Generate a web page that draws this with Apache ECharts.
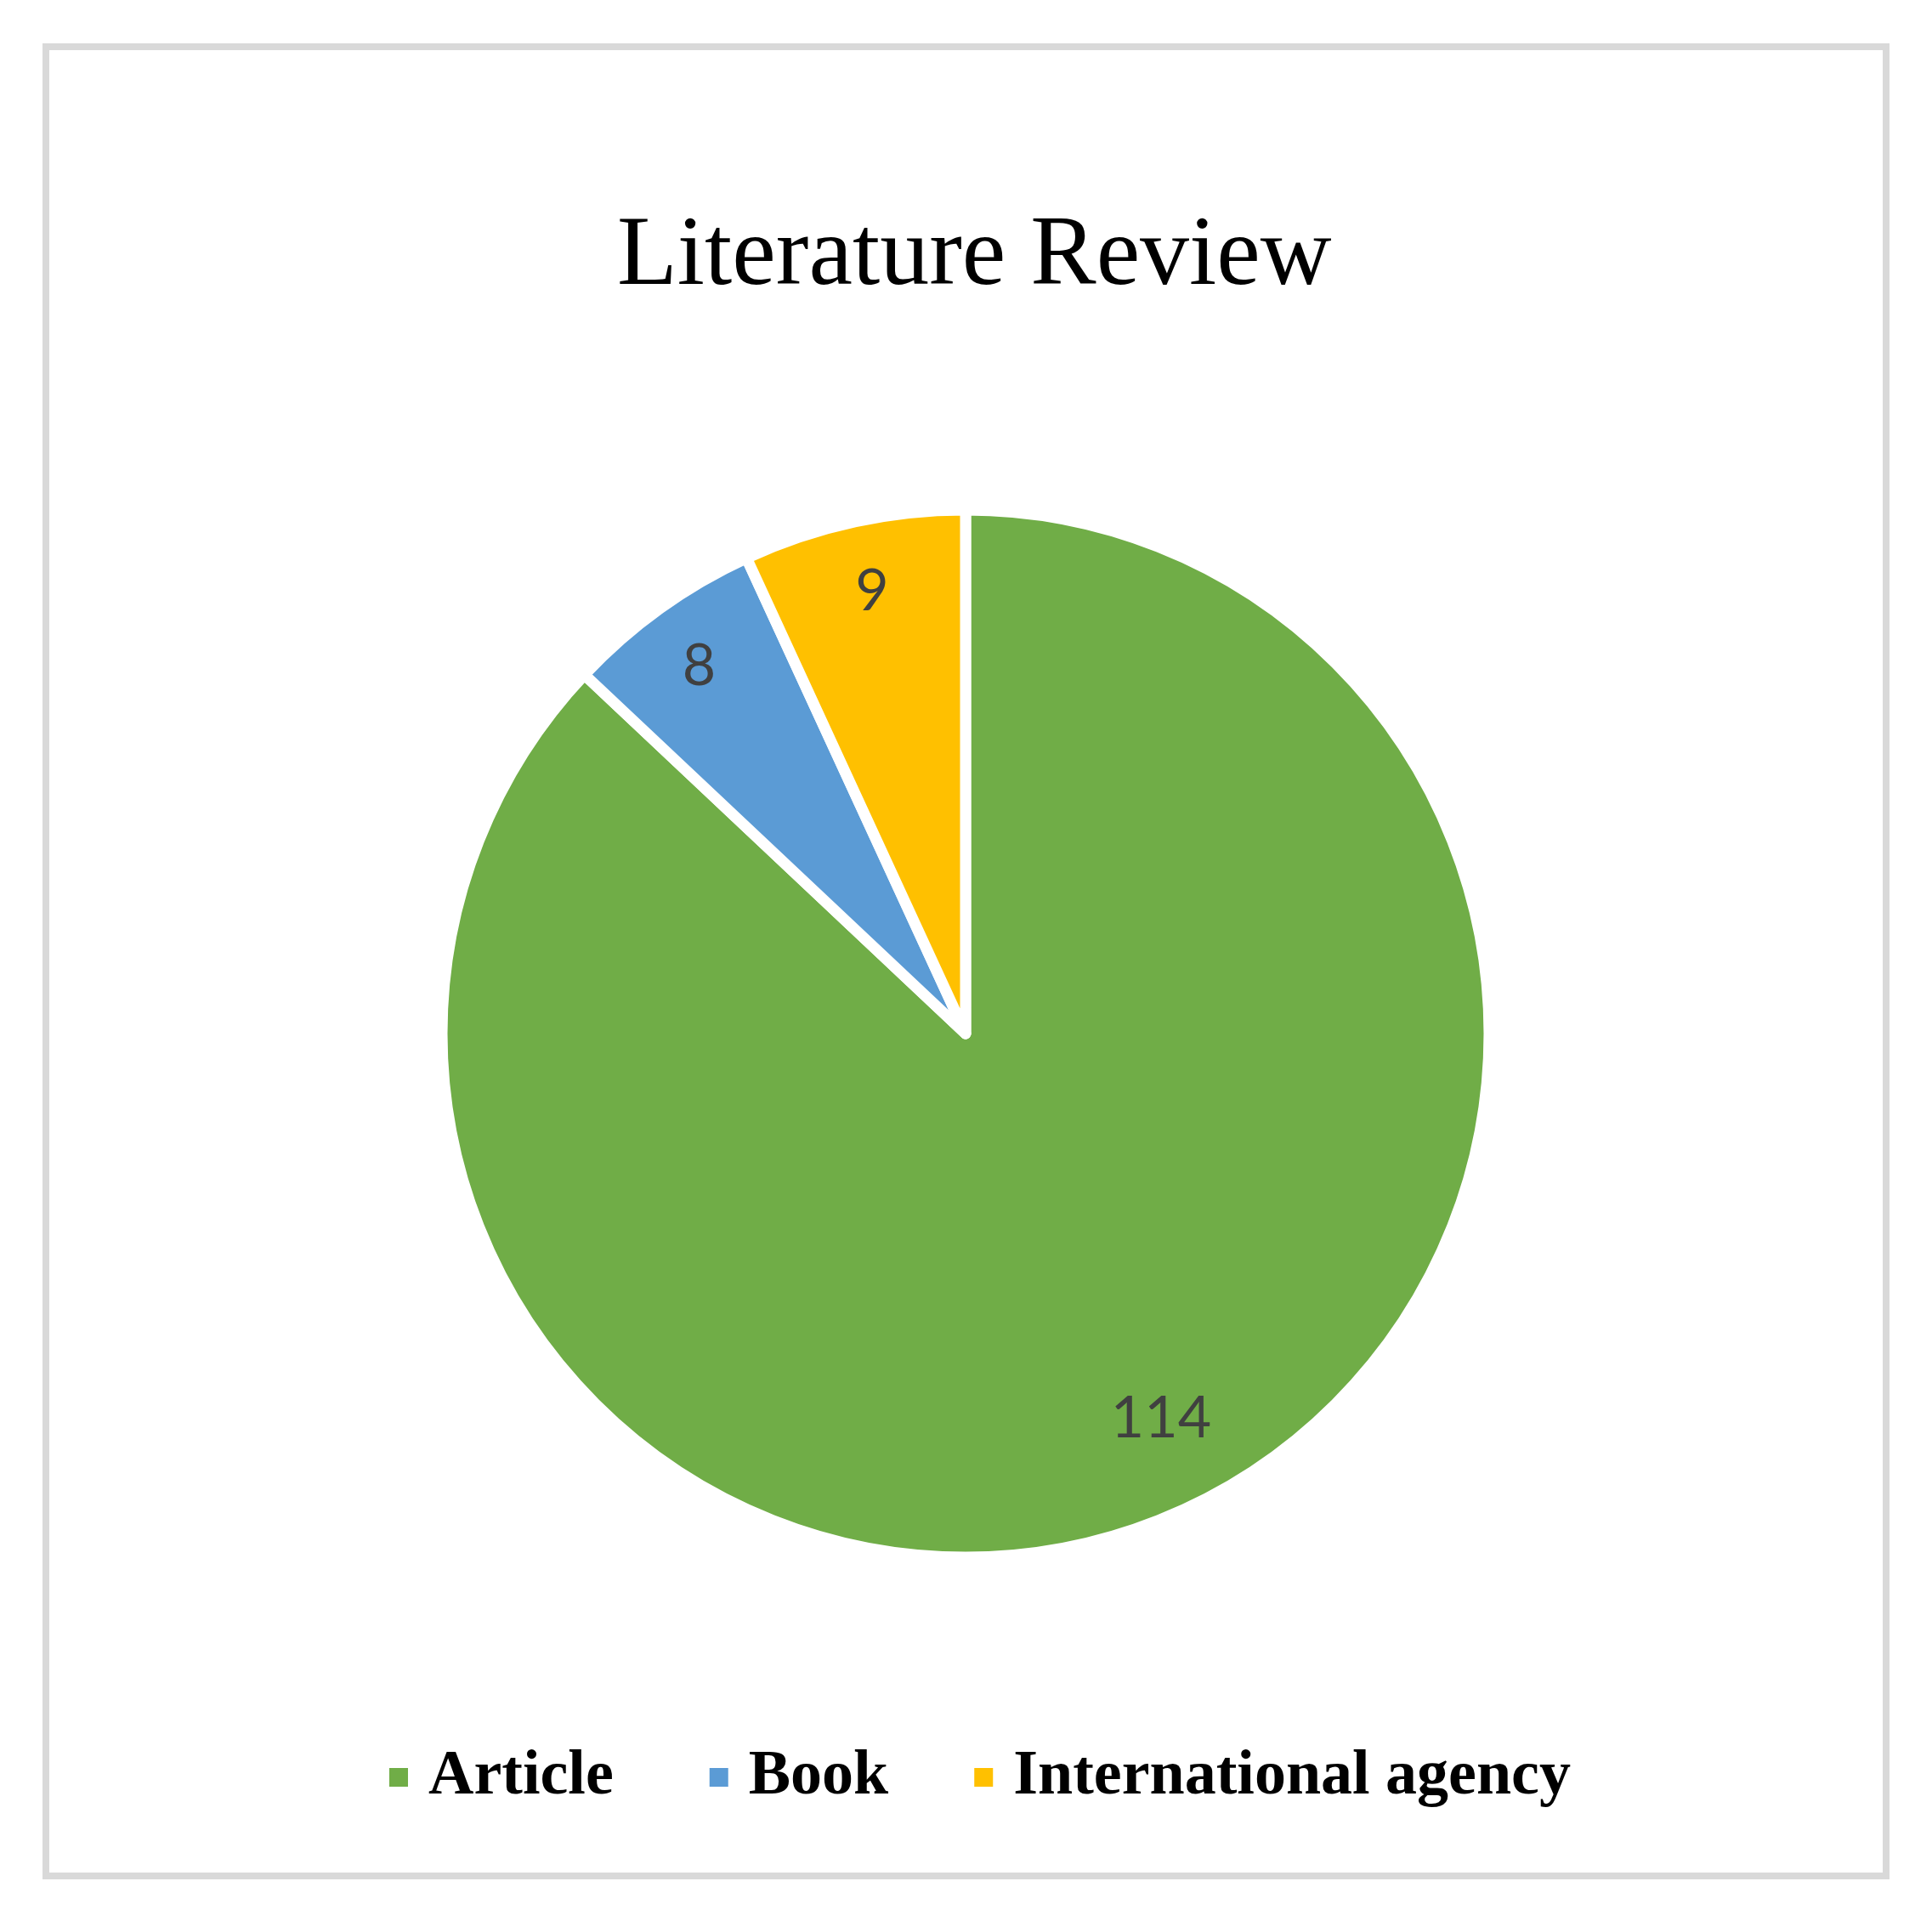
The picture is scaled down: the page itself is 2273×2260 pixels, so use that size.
<!DOCTYPE html>
<html>
<head>
<meta charset="utf-8">
<title>Literature Review</title>
<script src="https://cdn.jsdelivr.net/npm/echarts@6/dist/echarts.min.js"></script>
<style>
  html, body { margin: 0; padding: 0; background: #fff; }
  #main { width: 2273px; height: 2260px; }
</style>
</head>
<body>
<div id="main"></div>
<script>
// data
var categories = ['Article', 'Book', 'International agency'];
var counts = [114, 8, 9];
var sliceColors = ['#70AD47', '#5B9BD5', '#FFC000'];

// small nudges so the value labels sit where Excel put them
var labelNudge = [[19, -35], [-3, 0], [4, 0]];
// extra space after each legend entry (Excel spaces them unevenly)
var legendTrail = [12, 0, 0];

var myChart = echarts.init(document.getElementById('main'));

var pieData = categories.map(function (name, i) {
    return { name: name, value: counts[i], itemStyle: { color: sliceColors[i] } };
});

var labelData = categories.map(function (name, i) {
    return { name: name, value: counts[i], label: { offset: labelNudge[i] } };
});

var legendData = categories.map(function (name, i) {
    return { name: name, textStyle: { padding: [0, legendTrail[i], 0, 18] } };
});

var option = {
    backgroundColor: '#fff',
    animation: false,
    title: {
        text: 'Literature Review',
        left: 726,
        top: 246,
        padding: 0,
        textStyle: { fontFamily: 'Liberation Serif', fontSize: 116, fontWeight: 'normal', color: '#000', lineHeight: 116 }
    },
    legend: {
        data: legendData,
        left: 456,
        top: 2053,
        padding: 0,
        icon: 'rect',
        itemWidth: 24,
        itemHeight: 24,
        itemGap: 99,
        selectedMode: false,
        textStyle: { fontFamily: 'Liberation Serif', fontSize: 74, fontWeight: 'bold', color: '#000', lineHeight: 76, padding: [0, 0, 0, 18] }
    },
    graphic: [{
        type: 'rect',
        shape: { x: 54, y: 55, width: 2165, height: 2152 },
        style: { fill: 'none', stroke: '#d9d9d9', lineWidth: 8 },
        silent: true
    }],
    series: [{
        name: 'Literature Review',
        type: 'pie',
        center: [1136, 1216],
        radius: 616,
        startAngle: 90,
        clockwise: true,
        silent: true,
        itemStyle: { borderColor: '#fff', borderWidth: 13, borderJoin: 'round' },
        label: { show: false },
        labelLine: { show: false },
        data: pieData
    }, {
        // ring only used to place the value labels near the rim
        name: 'labels',
        type: 'pie',
        center: [1136, 1216],
        radius: [442, 616],
        startAngle: 90,
        clockwise: true,
        silent: true,
        legendHoverLink: false,
        itemStyle: { color: 'transparent', borderWidth: 0 },
        label: {
            show: true,
            position: 'inside',
            formatter: '{c}',
            fontFamily: 'Lato',
            fontSize: 68,
            color: '#404040'
        },
        labelLine: { show: false },
        data: labelData
    }]
};

myChart.setOption(option);
</script>
</body>
</html>
